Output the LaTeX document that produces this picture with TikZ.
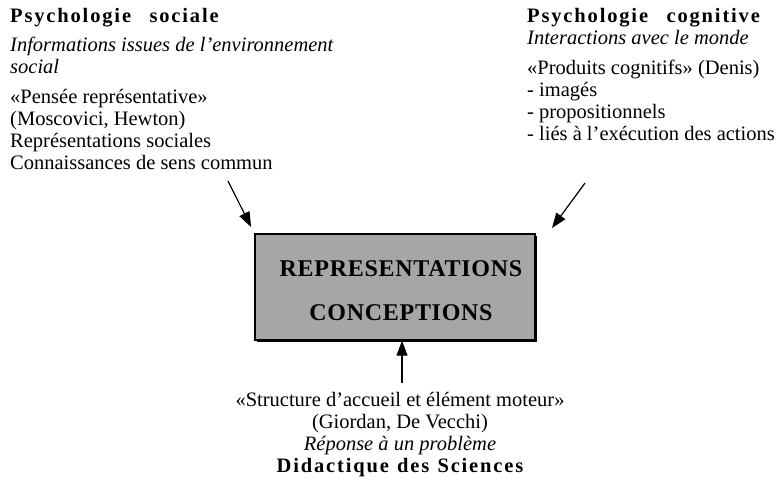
\documentclass[tikz,border=0pt]{standalone}
\usepackage{fontspec}
\setmainfont{Liberation Serif}
\usetikzlibrary{arrows.meta,shadows}
\newcommand{\headfont}{\bfseries\addfontfeatures{LetterSpace=9}}
\newcommand{\bodyfont}{\fontsize{20.5}{22}\selectfont}

\begin{document}
\begin{tikzpicture}[x=1pt,y=-1pt,
	txtblock/.style={inner sep=0pt, font=\bodyfont},
	reprbox/.style={draw, line width=1.4pt, fill=black!35, minimum width=280pt, minimum height=106pt,
		inner sep=0pt, drop shadow={shadow xshift=2pt, shadow yshift=-2pt, fill=black, opacity=1}},
	reprtxt/.style={inner sep=0pt, font=\fontsize{24}{28}\selectfont\bfseries\addfontfeatures{LetterSpace=3}},
	arr/.style={line width=1.2pt, -{Triangle[length=15pt,width=11pt]}}]
	
	\useasboundingbox (0,0) rectangle (779,482);
	
	% sources
	\node[txtblock, anchor=north west, align=left] (sociale) at (10,8)
	{{\headfont Psychologie\hspace{0.9em}sociale}\\[7pt]
		\textit{Informations issues de l'environnement}\\
		\textit{social}\\[8pt]
		«Pensée représentative»\\
		(Moscovici, Hewton)\\
		Représentations sociales\\
		Connaissances de sens commun};
	
	\node[txtblock, anchor=north west, align=left] (cognitive) at (527,8)
	{{\headfont Psychologie\hspace{0.9em}cognitive}\\
		\textit{Interactions avec le monde}\\[8pt]
		«Produits cognitifs» (Denis)\\
		- imagés\\
		- propositionnels\\
		- liés à l'exécution des actions};
	
	% centre
	\node[reprbox] (repr) at (395,287) {};
	\node[reprtxt] (rep) at (401,269) {REPRESENTATIONS};
	\node[reprtxt] (conc) at (401,313) {CONCEPTIONS};
	
	\node[txtblock, anchor=north, align=center] (didact) at (400,392)
	{«Structure d'accueil et élément moteur»\\
		(Giordan, De Vecchi)\\
		\textit{Réponse à un problème}\\
		{\headfont Didactique\hspace{0.4em}des\hspace{0.4em}Sciences}};
	
	% arrows
	\coordinate (sfrom) at (228,181);
	\coordinate (cfrom) at (585,183);
	\coordinate (cto) at (552,228);
	\draw[arr, shorten >=7pt] (sfrom) -- (repr.north west);
	\draw[arr] (cfrom) -- (cto);
	\draw[arr] ([xshift=2pt,yshift=9pt]didact.north) -- ([xshift=2pt]didact.north |- repr.south);

\end{tikzpicture}
\end{document}
